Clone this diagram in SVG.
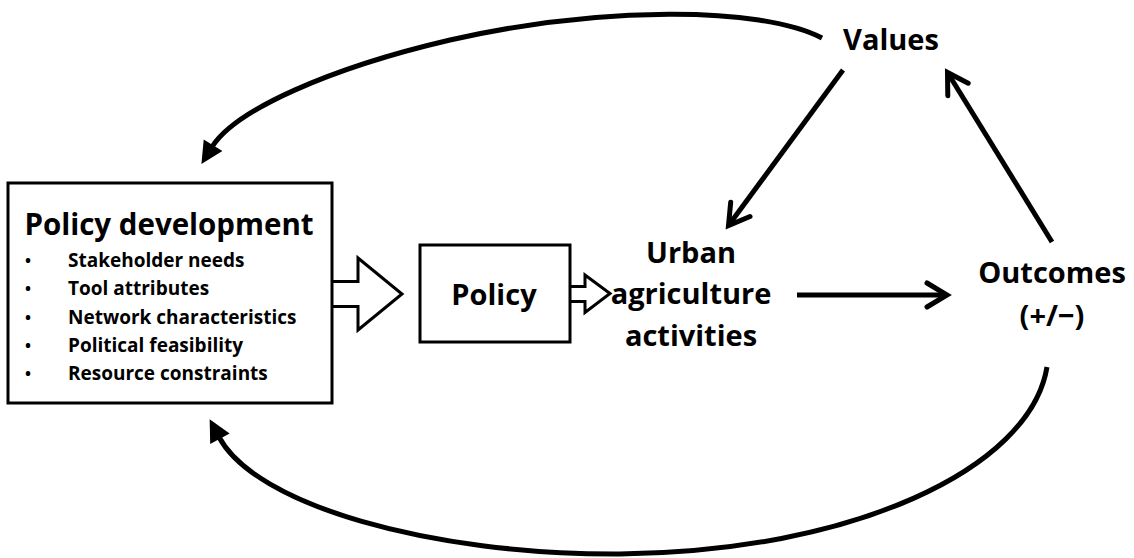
<svg xmlns="http://www.w3.org/2000/svg" width="1134" height="558" viewBox="0 0 1134 558">
  <style>
    text { font-family: "Open Sans", "Liberation Sans", sans-serif; font-weight: bold; fill: #000; }
    .big { font-size: 29px; text-anchor: middle; }
    .head { font-size: 29.5px; text-anchor: middle; }
    .item { font-size: 19px; }
    .dot { font-size: 16px; }
    .box { fill: #fff; stroke: #000; stroke-width: 3; stroke-linejoin: miter; }
    .line { fill: none; stroke: #000; stroke-width: 5; }
  </style>
  <defs>
    <marker id="open" markerUnits="userSpaceOnUse" markerWidth="40" markerHeight="40" viewBox="-30 -20 40 40" refX="0" refY="0" orient="auto" overflow="visible">
      <path d="M -20 -12 L 0 0 L -20 12" fill="none" stroke="#000" stroke-width="5" stroke-linecap="round" stroke-linejoin="miter"/>
    </marker>
    <marker id="solid" markerUnits="userSpaceOnUse" markerWidth="40" markerHeight="40" viewBox="-10 -20 40 40" refX="2" refY="0" orient="auto" overflow="visible">
      <path d="M 0 -11 L 22 0 L 0 11 Z" fill="#000"/>
    </marker>
  </defs>

  <rect width="1134" height="558" fill="#fff"/>

  <!-- connectors -->
  <g id="connectors">
    <path class="line" d="M 822 38 C 760 6, 600 6, 450 40 C 330 68, 235 110, 212 147" marker-end="url(#solid)"/>
    <path class="line" d="M 1047 367 C 1030 470, 850 552, 620 554 C 430 555, 255 505, 219 437" marker-end="url(#solid)"/>
    <line class="line" x1="843" y1="70" x2="728.5" y2="225.5" marker-end="url(#open)"/>
    <line class="line" x1="1052" y1="242" x2="947.5" y2="72.5" marker-end="url(#open)"/>
    <line class="line" x1="797" y1="295" x2="947" y2="295" marker-end="url(#open)"/>
  </g>

  <!-- Policy development box with block arrow -->
  <g id="policy-development">
    <path class="box" d="M 332 281.5 L 358 281.5 L 358 258 L 402 294 L 358 330 L 358 306.5 L 332 306.5"/>
    <rect class="box" x="8" y="183" width="324" height="220"/>
    <text class="head" x="169" y="235">Policy development</text>
    <text class="dot" x="25" y="266">•</text>
    <text class="item" x="68" y="267">Stakeholder needs</text>
    <text class="dot" x="25" y="294">•</text>
    <text class="item" x="68" y="295">Tool attributes</text>
    <text class="dot" x="25" y="322.5">•</text>
    <text class="item" x="68" y="323.5">Network characteristics</text>
    <text class="dot" x="25" y="351">•</text>
    <text class="item" x="68" y="352">Political feasibility</text>
    <text class="dot" x="25" y="379">•</text>
    <text class="item" x="68" y="380">Resource constraints</text>
  </g>

  <!-- Policy box with block arrow -->
  <g id="policy">
    <path class="box" d="M 570 286.5 L 585 286.5 L 585 275 L 610 293.5 L 585 312.5 L 585 301.5 L 570 301.5"/>
    <rect class="box" x="420" y="245" width="150" height="97"/>
    <text class="big" x="494" y="305">Policy</text>
  </g>

  <g id="activities">
    <text class="big" x="691" y="263">Urban</text>
    <text class="big" x="691" y="304">agriculture</text>
    <text class="big" x="691" y="346">activities</text>
  </g>

  <g id="outcomes">
    <text class="big" x="1052" y="283">Outcomes</text>
    <text class="big" x="1052" y="326">(+/−)</text>
  </g>

  <g id="values">
    <text class="big" x="891" y="50">Values</text>
  </g>
</svg>
